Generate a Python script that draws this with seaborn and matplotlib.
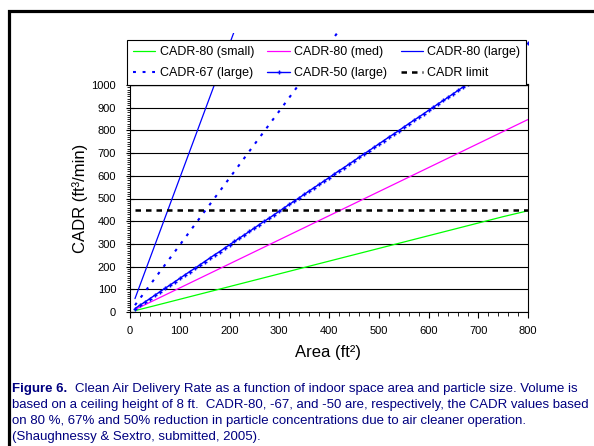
import seaborn as sns
import matplotlib.pyplot as plt
from matplotlib.patches import Rectangle
from matplotlib.ticker import MultipleLocator

# Area (ft2) and CADR (ft3/min)
area = [10, 50, 100, 150, 200, 250, 300, 350, 400, 450, 500, 550, 600, 650, 700, 750, 800]
cadr80_small = [6, 28, 56, 84, 112, 140, 168, 196, 224, 252, 280, 308, 336, 364, 392, 420, 446]
cadr80_med = [11, 53, 106, 159, 212, 265, 318, 371, 424, 477, 530, 583, 636, 689, 742, 795, 848]
cadr80_large = [59, 295, 590, 885, 1180, 1475, 1770, 2065, 2360, 2655, 2950, 3245, 3540, 3835, 4130, 4425, 4720]
cadr67_large = [30, 148, 295, 443, 590, 738, 885, 1033, 1180, 1328, 1475, 1623, 1770, 1918, 2065, 2213, 2360]

area_fine = list(range(10, 810, 10))
cadr50_large = [15, 30, 44, 59, 74, 89, 104, 118, 133, 148,
                163, 178, 192, 207, 222, 237, 252, 266, 281, 296,
                311, 326, 340, 355, 370, 385, 400, 414, 429, 444,
                459, 474, 488, 503, 518, 533, 548, 562, 577, 592,
                607, 622, 636, 651, 666, 681, 696, 710, 725, 740,
                755, 770, 784, 799, 814, 829, 844, 858, 873, 888,
                903, 918, 932, 947, 962, 977, 992, 1006, 1021, 1036,
                1051, 1066, 1080, 1095, 1110, 1125, 1140, 1154, 1169, 1184]

limit_area = [10, 800]
cadr_limit = [450, 450]

caption_lines = [
    'Clean Air Delivery Rate as a function of indoor space area and particle size. Volume is',
    'based on a ceiling height of 8 ft.  CADR-80, -67, and -50 are, respectively, the CADR values based',
    'on 80 %, 67% and 50% reduction in particle concentrations due to air cleaner operation.',
    '(Shaughnessy & Sextro, submitted, 2005).',
]

sns.set_style('ticks', rc={'axes.edgecolor': 'black', 'text.color': 'black',
                           'xtick.color': 'black', 'ytick.color': 'black',
                           'axes.labelcolor': 'black'})
plt.rcParams['font.family'] = ['Liberation Sans', 'DejaVu Sans']

fig = plt.figure(figsize=(5.94, 4.46), dpi=100)
ax = fig.add_axes([130 / 594, 1 - 312 / 446, 398 / 594, 227 / 446])

blue = '#0000ff'
sns.lineplot(x=area, y=cadr80_small, ax=ax, color='#00ff00', linewidth=0.9, label='CADR-80 (small)')
sns.lineplot(x=area, y=cadr80_med, ax=ax, color='#ff00ff', linewidth=0.9, label='CADR-80 (med)')
sns.lineplot(x=area, y=cadr80_large, ax=ax, color=blue, linewidth=0.9, label='CADR-80 (large)')
sns.lineplot(x=area, y=cadr67_large, ax=ax, color=blue, linewidth=1.5,
             linestyle=(0, (1.4, 3.2)), label='CADR-67 (large)')
sns.lineplot(x=area_fine, y=cadr50_large, ax=ax, color=blue, linewidth=1.0, marker='+',
             markersize=3.5, markeredgewidth=1.0, markeredgecolor=blue, label='CADR-50 (large)')
sns.lineplot(x=limit_area, y=cadr_limit, ax=ax, color='black', linewidth=1.8,
             linestyle=(0, (2.2, 2)), label='CADR limit')

# lines run past the top of the axes, up to the chart area edge
clip = Rectangle((0, 0), 1, 1.23, transform=ax.transAxes)
for line in ax.lines:
    line.set_clip_path(clip)

ax.set_xlim(0, 800)
ax.set_ylim(0, 1000)
ax.xaxis.set_major_locator(MultipleLocator(100))
ax.xaxis.set_minor_locator(MultipleLocator(20))
ax.yaxis.set_major_locator(MultipleLocator(100))
ax.yaxis.set_minor_locator(MultipleLocator(10))
ax.tick_params(axis='x', which='major', direction='out', length=4, width=0.8, labelsize=8, pad=6)
ax.tick_params(axis='x', which='minor', direction='out', length=3, width=0.6)
ax.tick_params(axis='y', which='major', direction='inout', length=6, width=0.8, labelsize=8, pad=7)
ax.tick_params(axis='y', which='minor', direction='out', length=2, width=0.6)

ax.yaxis.grid(True, which='major', color='black', linewidth=0.8)
ax.set_axisbelow(True)
for s in ax.spines.values():
    s.set_linewidth(0.8)
ax.spines['top'].set_linewidth(1.6)

ax.set_xlabel('Area (ft²)', fontsize=12)
ax.set_ylabel('CADR (ft³/min)', fontsize=12)
ax.xaxis.set_label_coords(0.497, -0.145)
ax.yaxis.set_label_coords(-0.105, 0.5)

# legend filled row by row, as in the original
handles, labels = ax.get_legend_handles_labels()
order = [0, 3, 1, 4, 2, 5]
leg = ax.legend([handles[i] for i in order], [labels[i] for i in order],
                ncol=3, loc='lower left', bbox_to_anchor=(-0.0075, 1.0, 1.0025, 0.198),
                mode='expand', borderaxespad=0, fontsize=9, frameon=True, fancybox=False,
                edgecolor='black', framealpha=1, handlelength=1.8, handletextpad=0.35,
                labelspacing=0.75, borderpad=0.45, columnspacing=1.0)
leg.get_frame().set_linewidth(0.8)
leg.set_zorder(5)

# caption
navy = '#000080'
ys = [389, 405, 421, 437]
fig.text(12 / 594, 1 - ys[0] / 446, 'Figure 6.', fontsize=9.5, weight='bold', color=navy, va='center')
fig.text(75 / 594, 1 - ys[0] / 446, caption_lines[0], fontsize=9.5, color=navy, va='center')
for y, txt in zip(ys[1:], caption_lines[1:]):
    fig.text(12 / 594, 1 - y / 446, txt, fontsize=9.5, color=navy, va='center')

# outer frame
fig.patches.append(Rectangle((8.5 / 594, -0.1), 1.2, 1 - 10.5 / 446 + 0.1, transform=fig.transFigure,
                             fill=False, linewidth=2.3, edgecolor='black'))

fig.savefig('out.png', dpi=100)
